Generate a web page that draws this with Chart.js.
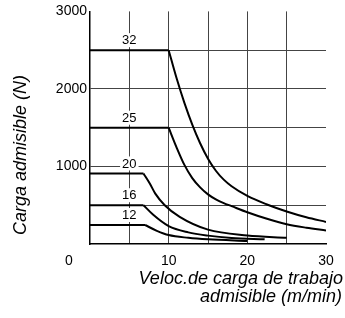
<!DOCTYPE html>
<html>
<head>
<meta charset="utf-8">
<script src="https://cdn.jsdelivr.net/npm/chart.js@4"></script>
<style>
html, body { margin: 0; padding: 0; background: #fff; }
#wrap { width: 345px; height: 318px; position: relative; }
</style>
</head>
<body>
<div id="wrap"><canvas id="chart"></canvas></div>
<script>
// curve names (drawn as labels above the plateaus)
var etiquetas = ['32', '25', '20', '16', '12'];

// plateau level of each curve (N)
var meseta = [2500, 1500, 910, 500, 245];

// falling part of each curve: velocity (m/min) and load (N)
var vel32 = [10, 11, 12, 13, 14, 15, 16, 17, 18, 20, 22.5, 25, 27.5, 30];
var carga32 = [2500, 2140, 1820, 1540, 1300, 1100, 945, 830, 745, 620, 510, 420, 345, 285];

var vel25 = [10, 11, 12, 13, 14, 15, 16, 17, 18, 20, 22.5, 25, 27.5, 30];
var carga25 = [1500, 1247, 1020, 850, 730, 640, 575, 527, 488, 410, 325, 255, 210, 175];

var vel20 = [6.8, 7.6, 8.3, 9.5, 11.4, 15, 20, 25];
var carga20 = [910, 780, 650, 500, 350, 185, 110, 80];

var vel16 = [6.8, 8, 10, 12.5, 15, 18, 22.2];
var carga16 = [500, 380, 231, 150, 108, 78, 60];

var vel12 = [7, 8.5, 10, 12.5, 15, 20];
var carga12 = [245, 170, 115, 80, 60, 38];

// axis ticks
var ticksX = [10, 20, 30];
var ticksY = [1000, 2000, 3000];

var tituloY = 'Carga admisible (N)';
var tituloX = ['Veloc.de carga de trabajo', 'admisible (m/min)'];

var fuente = '"Liberation Sans", Arial, sans-serif';

var curvas = [
  [vel32, carga32],
  [vel25, carga25],
  [vel20, carga20],
  [vel16, carga16],
  [vel12, carga12]
];

var datasets = [];
curvas.forEach(function(c, i) {
  // flat part from 0 to the knee
  datasets.push({
    label: etiquetas[i] + ' meseta',
    data: [{x: 0, y: meseta[i]}, {x: c[0][0], y: meseta[i]}],
    borderColor: '#000',
    borderWidth: 2,
    pointRadius: 0,
    tension: 0
  });
  // decreasing part
  datasets.push({
    label: etiquetas[i],
    data: c[0].map(function(v, j) { return {x: v, y: c[1][j]}; }),
    borderColor: '#000',
    borderWidth: 2,
    pointRadius: 0,
    cubicInterpolationMode: 'monotone'
  });
});

var textos = {
  id: 'textos',
  beforeDatasetsDraw: function(chart) {
    var ctx = chart.ctx;
    var xs = chart.scales.x, ys = chart.scales.y;
    ctx.save();
    ctx.font = '13px ' + fuente;
    ctx.textAlign = 'center';
    ctx.textBaseline = 'middle';
    etiquetas.forEach(function(t, i) {
      var px = xs.getPixelForValue(5);
      var py = ys.getPixelForValue(meseta[i]) - 10;
      var w = ctx.measureText(t).width + 4;
      ctx.fillStyle = '#fff';
      ctx.fillRect(px - w / 2, py - 7, w, 14);
      ctx.fillStyle = '#000';
      ctx.fillText(t, px, py + 0.5);
    });
    ctx.restore();
  },
  afterDraw: function(chart) {
    var ctx = chart.ctx;
    var xs = chart.scales.x;
    ctx.save();
    ctx.fillStyle = '#000';

    // origin label, set apart to the lower left
    ctx.font = '14px ' + fuente;
    ctx.textAlign = 'center';
    ctx.textBaseline = 'middle';
    ctx.fillText('0', xs.getPixelForValue(0) - 21, 261);

    ctx.font = 'italic 18px ' + fuente;
    ctx.textAlign = 'right';
    ctx.textBaseline = 'alphabetic';
    ctx.fillText(tituloX[0], 343, 284);
    ctx.fillText(tituloX[1], 342, 302);

    ctx.translate(26, 155);
    ctx.rotate(-Math.PI / 2);
    ctx.textAlign = 'center';
    ctx.fillText(tituloY, 0, 0);
    ctx.restore();
  }
};

new Chart(document.getElementById('chart'), {
  type: 'line',
  data: { datasets: datasets },
  options: {
    responsive: true,
    maintainAspectRatio: false,
    animation: false,
    layout: { padding: { top: 10, right: 19, left: 0, bottom: 0 } },
    plugins: { legend: { display: false }, tooltip: { enabled: false } },
    scales: {
      x: {
        type: 'linear',
        min: 0,
        max: 30,
        afterFit: function(s) { s.height = 74; },
        ticks: {
          stepSize: 5,
          autoSkip: false,
          maxRotation: 0,
          padding: 9,
          color: '#000',
          font: { size: 14, family: fuente },
          callback: function(v) { return ticksX.indexOf(v) >= 0 ? String(v) : ''; }
        },
        grid: {
          drawTicks: false,
          lineWidth: 1,
          color: function(c) {
            return (c.tick && (c.tick.value === 0 || c.tick.value === 30)) ? 'rgba(0,0,0,0)' : '#444';
          }
        },
        border: { display: true, color: '#000', width: 1.5 }
      },
      y: {
        min: 0,
        max: 3000,
        afterFit: function(s) { s.width = 90; },
        ticks: {
          stepSize: 500,
          padding: 3,
          color: '#000',
          font: { size: 14, family: fuente },
          callback: function(v) { return ticksY.indexOf(v) >= 0 ? String(v) : ''; }
        },
        grid: {
          drawTicks: false,
          lineWidth: 1,
          color: function(c) {
            return (c.tick && (c.tick.value === 0 || c.tick.value === 3000)) ? 'rgba(0,0,0,0)' : '#444';
          }
        },
        border: { display: true, color: '#000', width: 1.5 }
      }
    }
  },
  plugins: [textos]
});
</script>
</body>
</html>
